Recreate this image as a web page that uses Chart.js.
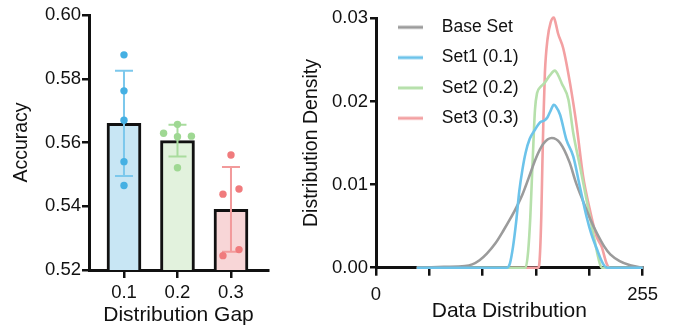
<!DOCTYPE html>
<html><head><meta charset="utf-8">
<script src="https://cdn.jsdelivr.net/npm/chart.js@4/dist/chart.umd.min.js"></script>
<style>
html,body{margin:0;padding:0;background:#fff;}
#wrap{position:relative;width:673px;height:329px;background:#fff;}
#c1{position:absolute;left:0;top:0;}
#c2{position:absolute;left:280px;top:0;}
</style></head><body>
<div id="wrap"><canvas id="c1" width="280" height="329"></canvas><canvas id="c2" width="393" height="329"></canvas></div>
<script>
// ---- Left panel data ----
const gaps = [0.1, 0.2, 0.3];
const accTicks = [0.52, 0.54, 0.56, 0.58, 0.60];
const meanAcc = [0.5660, 0.5606, 0.5390];
const sdAcc = [0.0165, 0.0050, 0.0133];
const runsGap1 = [0.5875, 0.5762, 0.5670, 0.5540, 0.5465];
const runsGap2 = [0.5657, 0.5629, 0.5618, 0.5620, 0.5521];
const runsGap3 = [0.5561, 0.5438, 0.5454, 0.5245, 0.5264];
const jitterGap1 = [0, 0, 0, 0, 0];
const jitterGap2 = [0, -0.026, 0, 0.026, 0];
const jitterGap3 = [0, -0.015, 0.015, -0.015, 0.015];

// ---- Right panel data ----
const distTicks = [0, 51, 102, 153, 204, 255];
const distTickLabels = ['0', '', '', '', '', '255'];
const densTicks = [0, 0.01, 0.02, 0.03];
const seriesNames = ['Base Set', 'Set1 (0.1)', 'Set2 (0.2)', 'Set3 (0.3)'];
const baseX = [39, 65, 85, 92, 99, 106, 114, 122, 128, 134, 140, 146, 153, 160, 168, 176, 185, 191, 198, 205, 211, 218, 224, 233, 243, 255];
const baseY = [0, 0.0001, 0.0002, 0.0004, 0.0009, 0.0017, 0.0029, 0.0045, 0.0058, 0.0072, 0.0088, 0.0108, 0.0132, 0.0149, 0.0156, 0.0150, 0.0127, 0.0103, 0.0080, 0.0058, 0.0042, 0.0026, 0.0016, 0.0008, 0.0003, 0];
const set1X = [39, 125, 128, 131, 134, 137, 140, 143, 147, 152, 157, 161, 164, 167, 170, 172, 176, 182, 188.6, 195, 201.4, 206, 211, 217, 221, 255];
const set1Y = [0, 0, 0.0005, 0.0025, 0.0055, 0.0092, 0.0118, 0.0138, 0.0155, 0.0166, 0.0175, 0.0177, 0.0181, 0.0189, 0.0196, 0.0194, 0.0184, 0.0154, 0.0134, 0.0097, 0.0061, 0.0040, 0.0023, 0.0005, 0, 0];
const set2X = [39, 143, 145.5, 147.5, 149, 150.5, 152, 154, 157, 161, 166, 171, 174, 177.5, 184, 188.6, 195, 201.4, 209, 214, 216, 255];
const set2Y = [0, 0, 0.002, 0.006, 0.0105, 0.0150, 0.0190, 0.0210, 0.0217, 0.0222, 0.0231, 0.0237, 0.0232, 0.0222, 0.0202, 0.0162, 0.0122, 0.0081, 0.0033, 0.0005, 0, 0];
const set3X = [39, 155, 156.5, 158, 159, 160, 161.5, 164, 167, 170, 172, 174, 179, 185.5, 191.9, 198, 204.6, 211, 215.8, 220.5, 223.5, 255];
const set3Y = [0, 0, 0.001, 0.006, 0.012, 0.0175, 0.0235, 0.0275, 0.0295, 0.0301, 0.0293, 0.0282, 0.0264, 0.0222, 0.0170, 0.0110, 0.0069, 0.0037, 0.0025, 0.0005, 0, 0];

const family = "'Liberation Sans', Arial, sans-serif";
const ink = '#111';
const barFill = ['#c8e6f4', '#e2f2dd', '#f8d6d7'];
const errColors = ['#7cc8ec', '#a9dc9e', '#f29a9b'];
const dotColors = ['#45b0e3', '#9fd893', '#f07b7d'];
const curveColors = ['#9b9b9b', '#6cc3ea', '#b6e0ab', '#f3a0a2'];

const runs = [runsGap1, runsGap2, runsGap3];
const jit = [jitterGap1, jitterGap2, jitterGap3];
const pts = [], ptCols = [];
runs.forEach((r, i) => r.forEach((v, j) => { pts.push({x: gaps[i] + jit[i][j], y: v}); ptCols.push(dotColors[i]); }));

const errorBars = {
  id: 'errorBars',
  afterDatasetDraw(chart, args) {
    if (args.meta.type !== 'bar') return;
    const {ctx, scales: {x, y}} = chart;
    ctx.save();
    ctx.lineWidth = 2;
    gaps.forEach((g, i) => {
      const px = x.getPixelForValue(g);
      const top = y.getPixelForValue(meanAcc[i] + sdAcc[i]);
      const bot = y.getPixelForValue(meanAcc[i] - sdAcc[i]);
      ctx.strokeStyle = errColors[i];
      ctx.beginPath();
      ctx.moveTo(px, top); ctx.lineTo(px, bot);
      ctx.moveTo(px - 9, top); ctx.lineTo(px + 9, top);
      ctx.moveTo(px - 9, bot); ctx.lineTo(px + 9, bot);
      ctx.stroke();
    });
    ctx.restore();
  }
};

const axisGrid = (tl) => ({drawOnChartArea: false, drawTicks: true, tickLength: tl, color: ink, lineWidth: 2.5});
const axisBorder = {display: true, color: ink, width: 3};

new Chart(document.getElementById('c1'), {
  type: 'bar',
  data: {
    datasets: [
      {type: 'bar', data: gaps.map((g, i) => ({x: g, y: meanAcc[i]})), backgroundColor: barFill, borderColor: ink,
       borderWidth: 3, borderSkipped: false, barThickness: 34, order: 2},
      {type: 'scatter', data: pts, pointBackgroundColor: ptCols, pointBorderWidth: 0, pointRadius: 3.7, order: 1}
    ]
  },
  options: {
    responsive: false, animation: false, devicePixelRatio: 1,
    layout: {padding: {left: 0, right: 12, top: 15, bottom: 0}},
    plugins: {legend: {display: false}, tooltip: {enabled: false}},
    scales: {
      x: {type: 'linear', min: 0.0346, max: 0.3692, offset: false,
          afterBuildTicks: s => { s.ticks = gaps.map(v => ({value: v})); },
          afterFit: s => { s.height = 59; },
          grid: Object.assign(axisGrid(8), {offset: false}), border: axisBorder,
          ticks: {padding: 5.75, font: {family, size: 18.5, lineHeight: 1}, color: ink, maxRotation: 0, autoSkip: false,
                  callback: v => v.toFixed(1)},
          title: {display: true, text: 'Distribution Gap', font: {family, size: 21, lineHeight: 1}, color: ink, padding: {top: 0, bottom: 3.5}}},
      y: {type: 'linear', min: 0.52, max: 0.60, beginAtZero: false,
          afterBuildTicks: s => { s.ticks = accTicks.map(v => ({value: v})); },
          afterFit: s => { s.width = 89; },
          grid: axisGrid(7), border: axisBorder,
          ticks: {padding: 1, font: {family, size: 18.5, lineHeight: 1}, color: ink, callback: v => v.toFixed(2)},
          title: {display: true, text: 'Accuracy', font: {family, size: 19.5, lineHeight: 1}, color: ink, padding: {top: 12, bottom: 0}}}
    }
  },
  plugins: [errorBars]
});

function legendLine(color) {
  const c = document.createElement('canvas');
  c.width = 35; c.height = 6;
  const g = c.getContext('2d');
  g.strokeStyle = color; g.lineWidth = 3;
  g.beginPath(); g.moveTo(0, 3); g.lineTo(25, 3); g.stroke();
  return c;
}

const placeLegend = {
  id: 'placeLegend',
  afterLayout(chart) {
    const lg = chart.legend;
    const w = lg.width, h = lg.height;
    lg.left = 105.2; lg.top = 5.75;
    lg.right = lg.left + w; lg.bottom = lg.top + h;
  }
};

const xs = [baseX, set1X, set2X, set3X];
const ys = [baseY, set1Y, set2Y, set3Y];
new Chart(document.getElementById('c2'), {
  type: 'line',
  data: {
    datasets: seriesNames.map((n, k) => ({
      label: n,
      data: xs[k].map((x, i) => ({x, y: ys[k][i]})),
      borderColor: curveColors[k], backgroundColor: curveColors[k], borderWidth: 2.6,
      pointRadius: 0, fill: false, cubicInterpolationMode: 'monotone', clip: false,
      order: k === 1 ? 0 : 1
    }))
  },
  options: {
    responsive: false, animation: false, devicePixelRatio: 1,
    layout: {padding: {left: 0, right: 30.3, top: 18.3, bottom: 0}},
    plugins: {
      tooltip: {enabled: false},
      legend: {
        position: 'chartArea', align: 'start',
        labels: {
          usePointStyle: true, pointStyleWidth: 35, padding: 12.8,
          font: {family, size: 17.5}, color: ink,
          sort: (a, b) => a.datasetIndex - b.datasetIndex,
          generateLabels: chart => Chart.defaults.plugins.legend.labels.generateLabels(chart)
            .map(l => Object.assign(l, {pointStyle: legendLine(curveColors[l.datasetIndex])}))
        }
      }
    },
    scales: {
      x: {type: 'linear', min: 0, max: 255,
          afterBuildTicks: s => { s.ticks = distTicks.map(v => ({value: v})); },
          afterFit: s => { s.height = 61.3; },
          grid: axisGrid(8), border: axisBorder,
          ticks: {padding: 10, font: {family, size: 18.5, lineHeight: 1}, color: ink, maxRotation: 0, autoSkip: false,
                  callback: (v, i) => distTickLabels[i]},
          title: {display: true, text: 'Data Distribution', font: {family, size: 21, lineHeight: 1}, color: ink, padding: {top: 0, bottom: 6.8}}},
      y: {type: 'linear', min: 0, max: 0.03,
          afterBuildTicks: s => { s.ticks = densTicks.map(v => ({value: v})); },
          afterFit: s => { s.width = 96; },
          grid: axisGrid(6), border: axisBorder,
          ticks: {padding: 2, font: {family, size: 18.5, lineHeight: 1}, color: ink, callback: v => v.toFixed(2)},
          title: {display: true, text: 'Distribution Density', font: {family, size: 19.5, lineHeight: 1}, color: ink, padding: {top: 22, bottom: 0}}}
    }
  },
  plugins: [placeLegend]
});
</script>
</body></html>
